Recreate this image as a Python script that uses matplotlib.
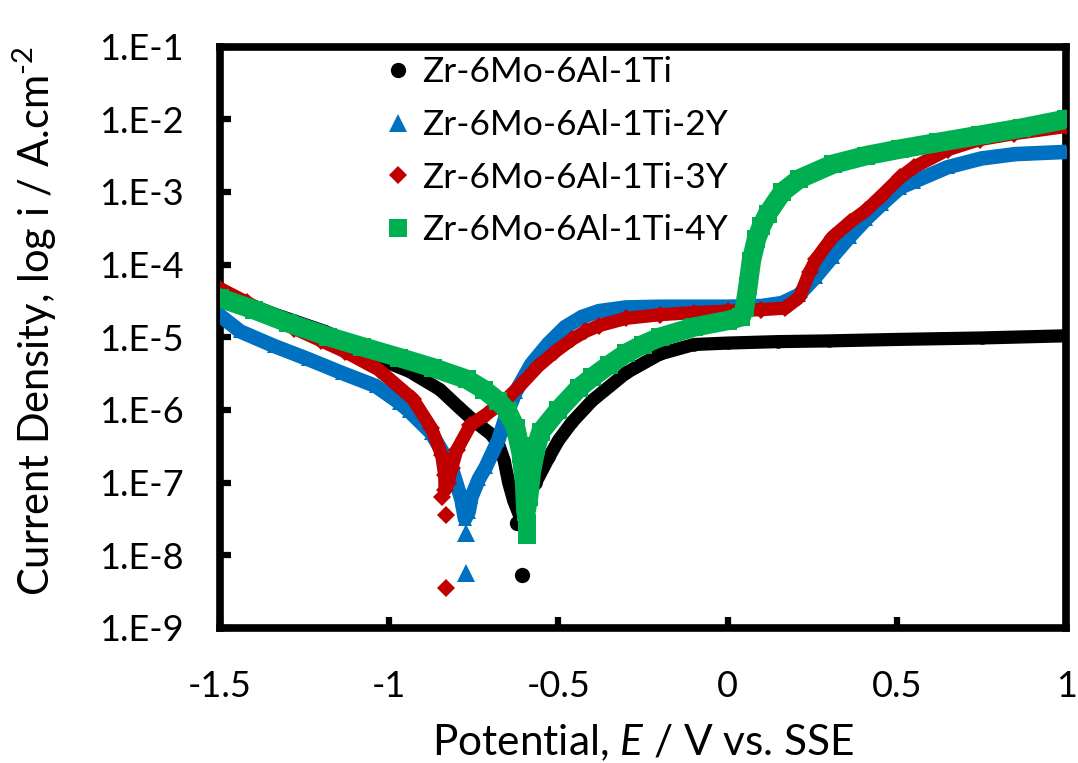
import numpy as np
import matplotlib
matplotlib.use('Agg')
import matplotlib.pyplot as plt
from matplotlib.lines import Line2D

plt.rcParams['font.family'] = ['Lato', 'DejaVu Sans']
plt.rcParams['mathtext.fontset'] = 'custom'
plt.rcParams['mathtext.rm'] = 'Lato'
plt.rcParams['mathtext.it'] = 'Lato:italic'

labels = ['Zr-6Mo-6Al-1Ti', 'Zr-6Mo-6Al-1Ti-2Y', 'Zr-6Mo-6Al-1Ti-3Y', 'Zr-6Mo-6Al-1Ti-4Y']

# ---- Zr-6Mo-6Al-1Ti (black) : potential (V) and log10 current density
black_E = [-1.50, -1.44, -1.34, -1.24, -1.19, -1.10, -1.04, -0.94, -0.85, -0.795, -0.75, -0.70,
           -0.677, -0.66, -0.647, -0.632, -0.615, -0.60, -0.585, -0.567, -0.528, -0.50, -0.46,
           -0.40, -0.30, -0.20, -0.10, 0.0, 0.15, 0.30, 0.50, 0.75, 1.0]
black_logi = [-4.33, -4.50, -4.68, -4.84, -4.92, -5.10, -5.28, -5.47, -5.72, -5.96, -6.15, -6.33,
              -6.47, -6.70, -7.00, -7.25, -7.45, -7.30, -7.15, -7.00, -6.65, -6.42, -6.17,
              -5.87, -5.49, -5.23, -5.10, -5.08, -5.06, -5.05, -5.03, -5.01, -4.98]
black_tail_E = [-0.623, -0.597, -0.608]
black_tail_logi = [-7.56, -7.38, -8.27]

# ---- Zr-6Mo-6Al-1Ti-2Y (blue)
blue_E = [-1.50, -1.44, -1.34, -1.24, -1.14, -1.04, -0.97, -0.94, -0.875, -0.816, -0.786, -0.776,
          -0.765, -0.757, -0.735, -0.715, -0.677, -0.656, -0.626, -0.58, -0.53, -0.48, -0.43,
          -0.38, -0.30, -0.20, -0.10, 0.0, 0.10, 0.16, 0.21, 0.26, 0.31, 0.36, 0.41, 0.455,
          0.51, 0.55, 0.65, 0.75, 0.85, 1.0]
blue_logi = [-4.70, -4.92, -5.12, -5.30, -5.49, -5.67, -5.90, -6.02, -6.32, -6.79, -7.24, -7.50,
             -7.40, -7.20, -6.95, -6.79, -6.41, -6.10, -5.75, -5.37, -5.09, -4.86, -4.72,
             -4.64, -4.59, -4.58, -4.58, -4.58, -4.57, -4.53, -4.42, -4.17, -3.89, -3.62, -3.37, -3.17,
             -2.94, -2.86, -2.66, -2.54, -2.48, -2.45]
blue_tail_E = [-0.774, -0.774]
blue_tail_logi = [-7.69, -8.25]

# ---- Zr-6Mo-6Al-1Ti-3Y (red)
red_E = [-1.50, -1.42, -1.35, -1.28, -1.20, -1.13, -1.03, -0.93, -0.875, -0.845, -0.836, -0.835,
         -0.826, -0.815, -0.80, -0.76, -0.71, -0.66, -0.61, -0.56, -0.51, -0.46, -0.42, -0.38,
         -0.30, -0.20, -0.10, 0.0, 0.10, 0.17, 0.212, 0.242, 0.262, 0.31, 0.36, 0.41, 0.455,
         0.51, 0.55, 0.65, 0.745, 0.845, 1.0]
red_logi = [-4.33, -4.52, -4.70, -4.88, -5.05, -5.20, -5.45, -5.85, -6.25, -6.62, -6.90, -7.10,
            -7.00, -6.80, -6.55, -6.21, -6.05, -5.88, -5.65, -5.40, -5.20, -5.03, -4.92, -4.84,
            -4.74, -4.69, -4.66, -4.64, -4.62, -4.60, -4.45, -4.10, -3.92, -3.62, -3.42, -3.25, -3.05,
            -2.80, -2.66, -2.42, -2.28, -2.20, -2.10]
red_tail_E = [-0.845, -0.831, -0.831]
red_tail_logi = [-7.20, -7.45, -8.45]

# ---- Zr-6Mo-6Al-1Ti-4Y (green)
green_E = [-1.50, -1.40, -1.30, -1.18, -1.08, -0.97, -0.87, -0.77, -0.72, -0.677, -0.65, -0.626,
           -0.61, -0.60, -0.596, -0.588, -0.58, -0.565, -0.552, -0.50, -0.44, -0.40, -0.35, -0.30,
           -0.25, -0.20, -0.10, 0.0, 0.04, 0.05, 0.06, 0.07, 0.085, 0.10, 0.118, 0.162, 0.212,
           0.31, 0.41, 0.51, 0.62, 0.745, 0.87, 1.0]
green_logi = [-4.46, -4.62, -4.80, -4.99, -5.13, -5.28, -5.42, -5.58, -5.72, -5.88, -6.02, -6.25,
              -6.60, -7.00, -7.40, -7.20, -6.85, -6.50, -6.30, -6.00, -5.70, -5.55, -5.38, -5.22,
              -5.10, -5.00, -4.86, -4.77, -4.72, -4.60, -4.30, -3.95, -3.65, -3.47, -3.30, -3.00, -2.82,
              -2.62, -2.50, -2.41, -2.32, -2.22, -2.12, -2.00]
green_tail_E = [-0.594, -0.594]
green_tail_logi = [-7.55, -7.72]

x_ticks = [-1.5, -1.0, -0.5, 0.0, 0.5, 1.0]
x_ticklabels = ['-1.5', '-1', '-0.5', '0', '0.5', '1']
y_ticks = [1e-9, 1e-8, 1e-7, 1e-6, 1e-5, 1e-4, 1e-3, 1e-2, 1e-1]
y_ticklabels = ['1.E-9', '1.E-8', '1.E-7', '1.E-6', '1.E-5', '1.E-4', '1.E-3', '1.E-2', '1.E-1']

# (E, logi, tail E, tail logi, colour, marker, band width pt, tail marker size pt)
series = [
    (black_E, black_logi, black_tail_E, black_tail_logi, '#000000', 'o', 9.5, 11),
    (blue_E, blue_logi, blue_tail_E, blue_tail_logi, '#0070C0', '^', 10.5, 13),
    (red_E, red_logi, red_tail_E, red_tail_logi, '#C00000', 'D', 9.5, 9.5),
    (green_E, green_logi, green_tail_E, green_tail_logi, '#00B050', 's', 14.0, 13),
]

fig = plt.figure(figsize=(10.78, 7.63), dpi=100)
ax = fig.add_axes([0.204, 0.177, 0.785, 0.762])
ax.set_yscale('log')

handles = []
legend_ms = {'o': 11, '^': 13, 'D': 9.5, 's': 13}
for (E, li, tE, tli, col, mk, lw, tms), lab in zip(series, labels):
    i = 10.0 ** np.array(li)
    ti = 10.0 ** np.array(tli)
    ax.plot(E, i, color=col, lw=lw, solid_capstyle='round', solid_joinstyle='round',
            marker=mk, ms=lw * 0.95, mec=col, mfc=col, mew=0, zorder=3)
    ax.plot(tE, ti, ls='none', marker=mk, ms=tms, mec=col, mfc=col, mew=0, zorder=3)
    handles.append(Line2D([], [], ls='none', marker=mk, ms=legend_ms[mk], mew=0,
                          color=col, label=lab))

ax.set_xlim(-1.5, 1.0)
ax.set_ylim(1e-9, 1e-1)
ax.set_xticks(x_ticks)
ax.set_xticklabels(x_ticklabels)
ax.set_yticks(y_ticks)
ax.set_yticklabels(y_ticklabels)
ax.minorticks_off()
ax.tick_params(axis='both', direction='in', length=8, width=4.5, labelsize=26, pad=26)
ax.tick_params(axis='x', pad=30)
for sp in ax.spines.values():
    sp.set_linewidth(5.5)
    sp.set_color('black')

ax.set_xlabel(r'Potential, $\it{E}$ / V vs. SSE', fontsize=30.5)
ax.set_ylabel(r'Current Density, log i / A.cm$^{\text{-2}}$', fontsize=30)
ax.xaxis.set_label_coords(0.5, -0.163)
ax.yaxis.set_label_coords(-0.19, 0.527)

leg = fig.legend(handles=handles, loc='upper left', bbox_to_anchor=(0.355, 0.926),
                 frameon=False, fontsize=25.5, handlelength=0.85, handletextpad=0.25,
                 labelspacing=0.58, borderpad=0, borderaxespad=0)

fig.savefig('out.png', dpi=100)
